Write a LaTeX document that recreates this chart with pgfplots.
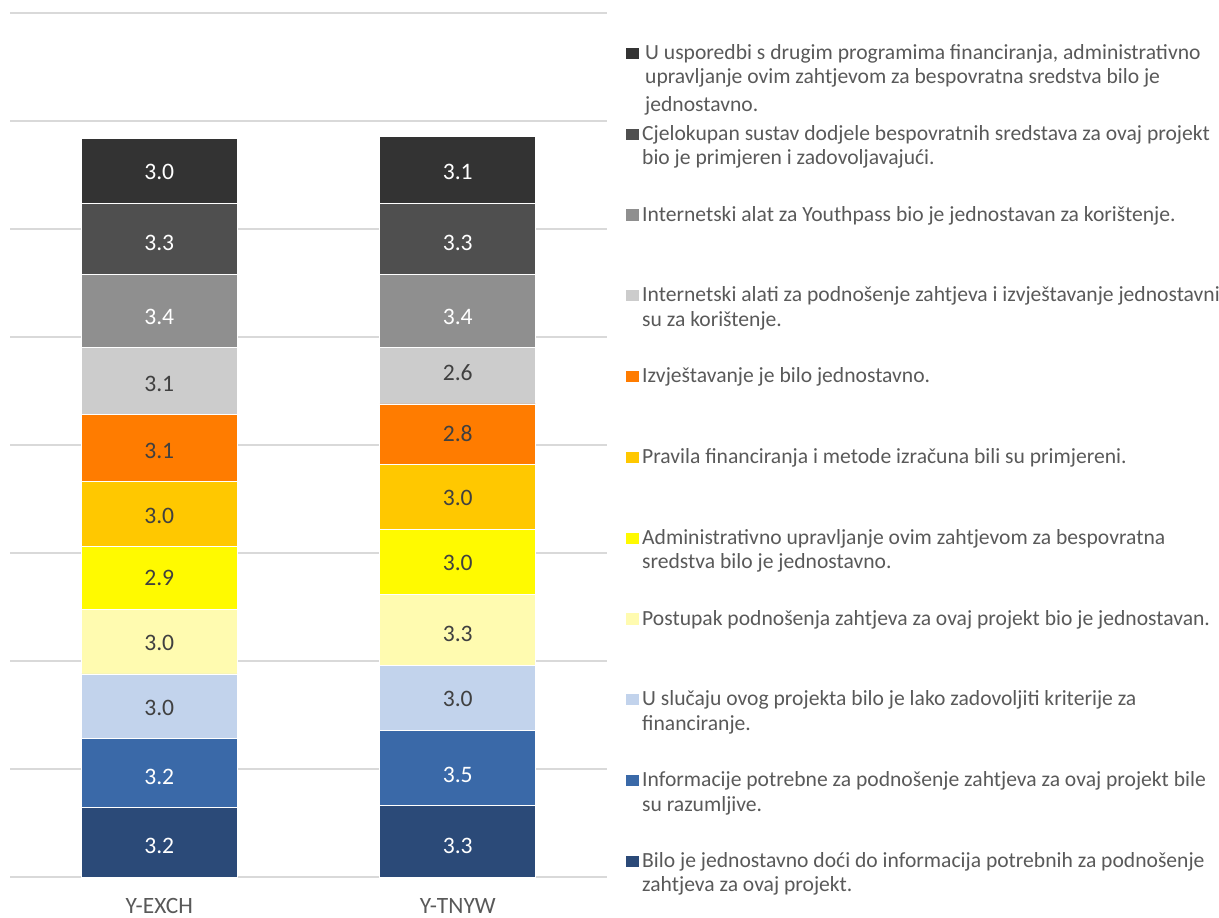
\documentclass[border=0pt]{standalone}
\usepackage{pgfplots}
\pgfplotsset{compat=1.18}
\usepackage{pgfplotstable}
\usepackage{fontspec}
\setmainfont{Carlito}

\definecolor{c1}{HTML}{2B4A78}
\definecolor{c2}{HTML}{3A69A8}
\definecolor{c3}{HTML}{C2D3EC}
\definecolor{c4}{HTML}{FFFBB0}
\definecolor{c5}{HTML}{FFFA00}
\definecolor{c6}{HTML}{FFC800}
\definecolor{c7}{HTML}{FF7C00}
\definecolor{c8}{HTML}{CCCCCC}
\definecolor{c9}{HTML}{8F8F8F}
\definecolor{c10}{HTML}{4F4F4F}
\definecolor{c11}{HTML}{333333}
\definecolor{txt}{HTML}{595959}
\definecolor{lbl}{HTML}{404040}
\definecolor{gridc}{HTML}{D9D9D9}

\pgfplotstableread{
x s1 s2 s3 s4 s5 s6 s7 s8 s9 s10 s11
0 3.2 3.2 3.0 3.0 2.9 3.0 3.1 3.1 3.4 3.3 3.0
1 3.3 3.5 3.0 3.3 3.0 3.0 2.8 2.6 3.4 3.3 3.1
}\datatable

\newcommand{\lgd}[1]{\parbox[t]{300pt}{\strut #1}}

\pgfplotsset{
  calc off/.code={%
    \pgfkeys{/pgf/fpu=true,/pgf/fpu/output format=fixed}%
    \pgfmathsetmacro\labeloff{\pgfplotspointmeta*5.4-15.5}%
    \pgfkeys{/pgf/fpu=false}%
  },
  sq/.style={legend image code/.code={\fill[##1,draw=none] (0pt,0.2pt) rectangle (6.2pt,5.8pt);}},
  wl/.style={every node near coord/.append style={text=white}},
}

\begin{document}
\begin{tikzpicture}
\path[use as bounding box] (-5pt,-20pt) rectangle (604.5pt,438.5pt);
\begin{axis}[
  at={(0,0)}, anchor=south west,
  scale only axis, width=298.5pt, height=432pt,
  ybar stacked, bar width=78pt,
  xmin=-0.5, xmax=1.5, ymin=0, ymax=40,
  xtick={0,1}, xticklabels={Y-EXCH,Y-TNYW},
  ytick={0,5,...,40}, yticklabels={},
  ymajorgrids, grid style={gridc, line width=0.9pt},
  axis line style={draw=none},
  major tick length=0pt,
  tick label style={font=\fontsize{11.7}{14}\selectfont, text=txt},
  xticklabel style={inner sep=0pt, yshift=-10.5pt},
  point meta=explicit,
  /pgf/number format/assume math mode=true,
  nodes near coords={\pgfmathprintnumber[fixed,fixed zerofill,precision=1]{\pgfplotspointmeta}},
  every node near coord/.append style={/pgfplots/calc off, anchor=center, yshift=-\labeloff pt, font=\fontsize{11.8}{14}\selectfont, text=lbl, inner sep=0pt},
  reverse legend,
  legend style={at={(axis description cs:1.0318,0.9676)}, anchor=north west, draw=none, fill=none, inner sep=0pt, row sep=0pt, column sep=1.7pt,
    font=\fontsize{10.8}{12.2}\selectfont, text=txt,
    nodes={anchor=base west, inner sep=0pt, text height=9pt, text depth=31.4pt}},
]
\addplot[fill=c1, draw=white, line width=0.4pt, sq, wl] table[x=x, y=s1, meta=s1] {\datatable};
\addlegendentry{\lgd{Bilo je jednostavno doći do informacija potrebnih za podnošenje\\ zahtjeva za ovaj projekt.}}
\addplot[fill=c2, draw=white, line width=0.4pt, sq, wl] table[x=x, y=s2, meta=s2] {\datatable};
\addlegendentry{\lgd{Informacije potrebne za podnošenje zahtjeva za ovaj projekt bile\\ su razumljive.}}
\addplot[fill=c3, draw=white, line width=0.4pt, sq] table[x=x, y=s3, meta=s3] {\datatable};
\addlegendentry{\lgd{U slučaju ovog projekta bilo je lako zadovoljiti kriterije za\\ financiranje.}}
\addplot[fill=c4, draw=white, line width=0.4pt, sq] table[x=x, y=s4, meta=s4] {\datatable};
\addlegendentry{\lgd{Postupak podnošenja zahtjeva za ovaj projekt bio je jednostavan.}}
\addplot[fill=c5, draw=white, line width=0.4pt, sq] table[x=x, y=s5, meta=s5] {\datatable};
\addlegendentry{\lgd{Administrativno upravljanje ovim zahtjevom za bespovratna\\ sredstva bilo je jednostavno.}}
\addplot[fill=c6, draw=white, line width=0.4pt, sq] table[x=x, y=s6, meta=s6] {\datatable};
\addlegendentry{\lgd{Pravila financiranja i metode izračuna bili su primjereni.}}
\addplot[fill=c7, draw=white, line width=0.4pt, sq] table[x=x, y=s7, meta=s7] {\datatable};
\addlegendentry{\lgd{Izvještavanje je bilo jednostavno.}}
\addplot[fill=c8, draw=white, line width=0.4pt, sq] table[x=x, y=s8, meta=s8] {\datatable};
\addlegendentry{\lgd{Internetski alati za podnošenje zahtjeva i izvještavanje jednostavni\\ su za korištenje.}}
\addplot[fill=c9, draw=white, line width=0.4pt, sq, wl] table[x=x, y=s9, meta=s9] {\datatable};
\addlegendentry{\lgd{Internetski alat za Youthpass bio je jednostavan za korištenje.}}
\addplot[fill=c10, draw=white, line width=0.4pt, sq, wl] table[x=x, y=s10, meta=s10] {\datatable};
\addlegendentry{\lgd{Cjelokupan sustav dodjele bespovratnih sredstava za ovaj projekt\\ bio je primjeren i zadovoljavajući.}}
\addplot[fill=c11, draw=white, line width=0.4pt, sq, wl] table[x=x, y=s11, meta=s11] {\datatable};
\addlegendentry{\lgd{\hspace*{1.5pt}U usporedbi s drugim programima financiranja, administrativno\\ \hspace*{1.5pt}upravljanje ovim zahtjevom za bespovratna sredstva bilo je\\[1.5pt] \hspace*{1.5pt}jednostavno.}}
\end{axis}
\end{tikzpicture}
\end{document}
